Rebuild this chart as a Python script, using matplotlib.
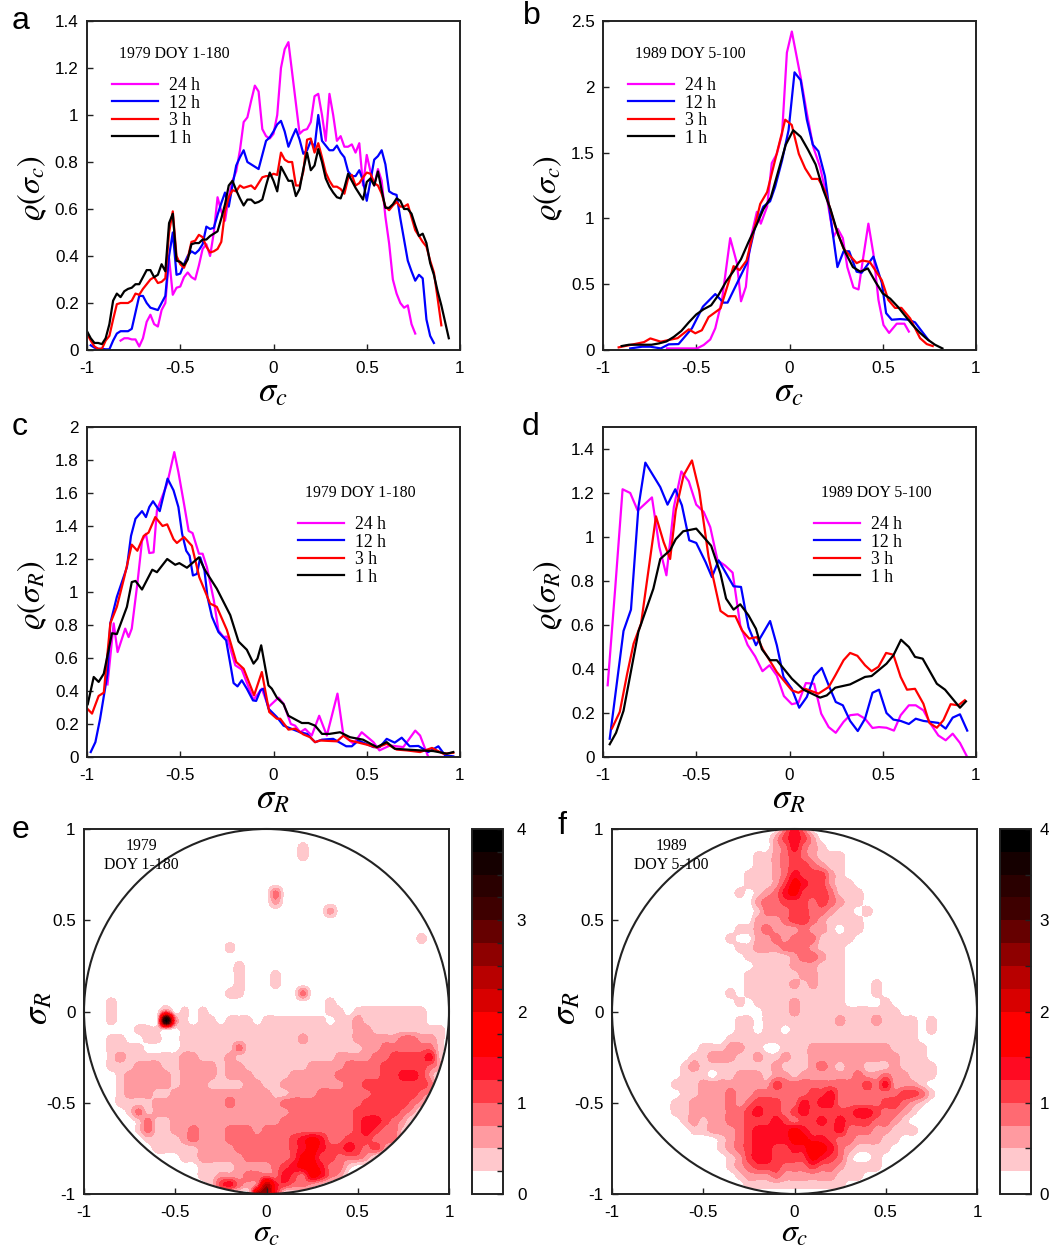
import numpy as np
import matplotlib
matplotlib.use("Agg")
import matplotlib.pyplot as plt
from matplotlib.patches import Circle
from matplotlib.colors import ListedColormap, BoundaryNorm

plt.rcParams['font.family'] = ['Liberation Sans', 'DejaVu Sans']
plt.rcParams['mathtext.fontset'] = 'stix'
plt.rcParams['axes.unicode_minus'] = False

N = float('nan')
# ---------------- panel a: bins and series ----------------
A_X = [-1,-.98,-.96,-.94,-.92,-.90,-.88,-.86,-.84,-.82,-.80,-.78,-.76,-.74,-.72,-.70,-.68,-.66,-.64,-.62,-.60,-.58,-.56,-.54,-.52,-.50,-.48,-.46,-.44,-.42,-.40,-.38,-.36,-.34,-.32,-.30,-.28,-.26,-.24,-.22,-.20,-.18,-.16,-.14,-.12,-.10,-.08,-.06,-.04,-.02,0,.02,.04,.06,.08,.10,.12,.14,.16,.18,.20,.22,.24,.26,.28,.30,.32,.34,.36,.38,.40,.42,.44,.46,.48,.50,.52,.54,.56,.58,.60,.62,.64,.66,.68,.70,.72,.74,.76,.78,.80,.82,.84,.86,.88,.90,.92,.94]
A_1H = [.08,.05,.03,.03,.025,.05,.11,.21,.24,.225,.25,.26,.265,.28,.28,.31,.34,.34,.31,.32,.365,.335,.54,.58,.38,.375,.36,.385,.45,.455,.455,.47,.47,.485,.495,.505,.56,.62,.70,.72,.68,.645,.615,.64,.64,.625,.63,.64,.70,.755,.72,.675,.78,.75,.72,.72,.655,.685,.77,.84,.765,.785,.855,.80,.73,.695,.67,.65,.645,.69,.75,.72,.69,.665,.64,.715,.73,.70,.76,.68,.605,.605,.62,.645,.635,.60,.60,.58,.53,.485,.495,.455,.37,.32,.25,.19,.12,.05]
A_3H = [.07,.04,.015,.005,.005,.04,.06,.13,.195,.20,.20,.20,.21,.24,.235,.26,.28,.30,.31,.285,.29,.305,.50,.59,.40,.365,.35,.39,.46,.465,.49,.48,.44,.415,.42,.43,.46,.59,.65,.68,.675,.70,.69,.695,.70,.685,.71,.735,.74,.74,.75,.745,.84,.81,.80,.80,.70,.70,.76,.895,.90,.84,.88,.82,.755,.72,.695,.695,.685,.665,.73,.745,.70,.71,.735,.755,.75,.71,.70,.665,.61,.595,.615,.63,.61,.61,.62,.565,.51,.485,.46,.44,.38,.33,.22,.105,N,N]
A_12H = [N,.02,.01,.005,.005,.003,.003,.04,.07,.08,.08,.08,.09,.16,.23,.23,.20,.18,.175,.17,.20,.23,.40,.50,.32,.325,.365,.40,.42,.41,.425,.45,.525,.515,.52,.575,.625,.67,.61,.70,.785,.82,.85,.80,.79,.78,.77,.83,.89,.905,.93,.96,.975,.93,.865,.905,.94,.895,.835,.85,.89,.86,1.0,.89,.87,.85,.85,.87,.84,.82,.76,.74,.74,.765,.72,.635,.72,.81,.825,.85,.79,.675,.665,.66,.56,.47,.38,.335,.295,.32,.305,.13,.06,.03,N,N,N,N]
A_24H = [N,N,N,N,N,N,N,N,N,.04,.05,.05,.045,.045,.015,.05,.12,.15,.11,.10,.17,.20,.39,.235,.265,.27,.31,.33,.31,.30,.36,.43,.45,.40,.50,.65,.59,.55,.65,.72,.76,.85,.97,.99,1.06,1.125,1.10,.94,.91,.90,.92,1.00,1.20,1.28,1.31,1.18,1.05,.92,.935,.94,.97,1.08,1.09,1.0,.89,1.09,1.0,.89,.91,.865,.865,.875,.84,.88,.70,.83,.76,.70,.77,.72,.567,.453,.30,.24,.20,.18,.19,.11,.07,N,N,N,N,N,N,N,N,N]

# ---------------- panel b ----------------
B_1H_X = [-.90,-.86,-.82,-.78,-.74,-.70,-.66,-.62,-.58,-.54,-.50,-.46,-.42,-.38,-.34,-.30,-.26,-.22,-.18,-.14,-.10,-.06,-.02,.02,.06,.10,.14,.18,.22,.26,.30,.34,.38,.42,.46,.50,.54,.58,.62,.66,.70,.74,.78,.82]
B_1H_Y = [.03,.04,.04,.04,.04,.05,.065,.10,.145,.21,.27,.31,.34,.42,.52,.60,.69,.82,.94,1.07,1.16,1.36,1.56,1.67,1.62,1.52,1.41,1.22,1.07,.88,.74,.63,.595,.62,.52,.43,.39,.33,.26,.19,.13,.08,.04,.012]
B_3H_X = [-.916,-.78,-.746,-.69,-.60,-.54,-.505,-.47,-.434,-.37,-.30,-.268,-.23,-.157,-.12,-.023,.012,.05,.084,.12,.155,.19,.245,.29,.36,.39,.43,.495,.53,.566,.60,.647,.70,.736,.768]
B_3H_Y = [.02,.06,.088,.063,.09,.157,.127,.15,.25,.316,.637,.607,.68,1.11,1.2,1.75,1.71,1.49,1.38,1.30,1.30,1.21,.94,.77,.66,.68,.67,.53,.38,.32,.32,.24,.09,.045,.03]
B_12H_X = [-.854,-.79,-.746,-.69,-.648,-.595,-.523,-.464,-.398,-.354,-.332,-.229,-.184,-.14,-.104,-.077,-.04,-.005,.027,.06,.093,.125,.155,.19,.22,.257,.29,.32,.36,.387,.45,.495,.518,.548,.593,.638,.673,.745]
B_12H_Y = [.012,.025,.025,.012,.043,.045,.165,.33,.425,.36,.36,.66,.94,1.09,1.13,1.24,1.44,1.67,2.11,2.05,1.75,1.56,1.51,1.32,1.01,.63,.75,.75,.595,.587,.71,.51,.28,.23,.235,.23,.21,.076]
B_24H_X = [-.657,-.496,-.46,-.425,-.398,-.362,-.318,-.282,-.26,-.234,-.21,-.175,-.154,-.12,-.095,-.068,-.04,-.014,.0125,.06,.093,.128,.164,.2,.236,.259,.286,.31,.343,.37,.396,.423,.45,.477,.504,.534,.575,.616,.64]
B_24H_Y = [.012,.012,.038,.08,.165,.38,.85,.66,.37,.48,.835,1.05,.96,1.09,1.42,1.49,1.64,2.26,2.42,2.07,1.80,1.54,1.39,1.16,.86,.92,.85,.63,.475,.46,.71,.96,.73,.38,.19,.13,.20,.20,.14]

# ---------------- panel c ----------------
C_1H_X = [-.996,-.964,-.9375,-.91,-.866,-.84,-.786,-.76,-.74,-.705,-.65,-.625,-.57,-.527,-.505,-.464,-.40,-.366,-.304,-.232,-.1875,-.143,-.107,-.086,-.066,-.027,-.009,.018,.054,.08,.152,.1875,.223,.26,.30,.357,.41,.48,.554,.607,.65,.714,.786,.857,.93,.964]
C_1H_Y = [.32,.485,.455,.505,.75,.745,.91,1.06,1.067,1.015,1.135,1.12,1.2,1.165,1.175,1.147,1.21,1.13,1.02,.86,.70,.65,.566,.596,.677,.434,.414,.36,.32,.25,.206,.206,.19,.14,.14,.15,.12,.105,.06,.09,.05,.045,.04,.036,.02,.03]
C_3H_X = [-.996,-.973,-.9375,-.91,-.875,-.84,-.80,-.76,-.73,-.696,-.67,-.634,-.595,-.57,-.536,-.518,-.48,-.4375,-.398,-.34,-.304,-.25,-.2,-.16,-.104,-.0625,-.023,.018,.036,.08,.116,.16,.196,.223,.25,.34,.375,.41,.5,.554,.607,.66,.714,.786,.85,.91,.964]
C_3H_Y = [.29,.263,.37,.39,.81,.91,1.09,1.287,1.25,1.34,1.36,1.454,1.40,1.41,1.32,1.297,1.333,1.28,1.09,.93,.91,.77,.576,.535,.374,.515,.273,.232,.232,.166,.172,.137,.12,.09,.10,.095,.13,.10,.075,.057,.08,.045,.04,.03,.055,.02,.025]
C_12H_X = [-.98,-.955,-.93,-.89,-.875,-.84,-.786,-.764,-.74,-.705,-.684,-.666,-.646,-.61,-.568,-.536,-.51,-.49,-.468,-.45,-.432,-.41,-.393,-.37,-.354,-.33,-.295,-.254,-.232,-.214,-.193,-.17,-.143,-.11,-.093,-.07,-.054,-.027,.018,.054,.107,.143,.18,.223,.26,.32,.39,.42,.455,.536,.57,.607,.65,.6875,.73,.777,.83,.884,.92,.964]
C_12H_Y = [.03,.09,.23,.505,.81,.97,1.15,1.34,1.444,1.49,1.454,1.515,1.55,1.49,1.687,1.616,1.515,1.353,1.25,1.22,1.10,1.11,1.21,1.13,.97,.85,.757,.707,.566,.448,.428,.465,.414,.343,.34,.404,.414,.293,.242,.19,.166,.15,.14,.09,.105,.11,.065,.065,.10,.06,.06,.11,.087,.117,.065,.067,.03,.065,.01,.004]
C_24H_X = [-.89,-.857,-.836,-.795,-.777,-.76,-.73,-.705,-.684,-.666,-.643,-.625,-.57,-.532,-.51,-.48,-.455,-.434,-.40,-.38,-.357,-.32,-.295,-.268,-.25,-.205,-.17,-.134,-.107,-.0625,-.027,.027,.054,.093,.116,.143,.17,.205,.245,.286,.343,.375,.43,.473,.536,.568,.625,.696,.76,.786,.83,.93]
C_24H_Y = [.44,.81,.636,.778,.727,.778,1.05,1.31,1.353,1.236,1.24,1.495,1.657,1.848,1.727,1.535,1.37,1.357,1.232,1.232,1.15,.95,.767,.727,.73,.556,.53,.424,.347,.414,.303,.36,.323,.20,.19,.15,.17,.13,.25,.13,.384,.13,.08,.15,.09,.04,.07,.06,.16,.13,0,0]

# ---------------- panel d ----------------
D_1H_X = [-.964,-.93,-.89,-.81,-.73,-.693,-.64,-.61,-.57,-.50,-.42,-.37,-.34,-.30,-.264,-.22,-.18,-.148,-.104,-.068,.0125,.075,.164,.2,.245,.325,.405,.44,.52,.557,.598,.64,.673,.714,.79,.834,.914,.946]
D_1H_Y = [.058,.11,.21,.57,.765,.90,.94,.99,1.026,1.038,.96,.833,.72,.67,.694,.644,.583,.49,.44,.44,.356,.306,.27,.28,.315,.33,.364,.368,.424,.462,.533,.50,.455,.447,.333,.306,.224,.253]
D_3H_X = [-.952,-.91,-.87,-.836,-.796,-.716,-.675,-.64,-.61,-.568,-.523,-.484,-.434,-.37,-.33,-.29,-.255,-.216,-.175,-.14,-.068,.0125,.048,.084,.155,.21,.245,.29,.325,.364,.405,.44,.477,.518,.557,.596,.63,.673,.718,.75,.79,.825,.864,.905,.94]
D_3H_Y = [.13,.205,.38,.515,.606,1.094,.977,.90,1.12,1.28,1.348,1.21,.91,.664,.64,.64,.576,.538,.545,.485,.386,.303,.292,.31,.288,.318,.37,.44,.473,.46,.417,.39,.41,.473,.465,.364,.306,.31,.242,.155,.133,.167,.24,.235,.258]
D_12H_X = [-.964,-.89,-.85,-.81,-.773,-.693,-.654,-.6125,-.577,-.5375,-.5,-.45,-.416,-.38,-.30,-.26,-.22,-.18,-.104,-.068,-.032,.0125,.052,.093,.132,.173,.21,.248,.286,.325,.366,.405,.445,.48,.52,.557,.596,.64,.677,.718,.798,.8375,.875,.914,.953]
D_12H_Y = [.083,.573,.67,1.136,1.338,1.227,1.147,1.217,1.144,.985,.973,.886,.818,.894,.776,.773,.59,.508,.618,.508,.364,.31,.224,.273,.368,.405,.326,.25,.235,.164,.118,.174,.292,.306,.20,.17,.164,.15,.174,.164,.155,.129,.179,.194,.12]
D_24H_X = [-.975,-.934,-.895,-.854,-.814,-.7375,-.698,-.66,-.62,-.58,-.54,-.5,-.46,-.425,-.386,-.345,-.305,-.264,-.225,-.184,-.145,-.107,-.068,-.03,.0125,.048,.0875,.132,.17,.21,.248,.29,.325,.366,.405,.445,.48,.52,.56,.596,.64,.677,.718,.757,.798,.8375,.875,.914,.953]
D_24H_Y = [.326,.773,1.217,1.2,1.12,1.18,.955,.826,1.136,1.298,1.253,1.147,1.114,1.045,.894,.87,.838,.598,.51,.457,.39,.417,.37,.277,.24,.247,.336,.333,.197,.136,.11,.16,.19,.194,.174,.132,.136,.133,.12,.19,.235,.235,.212,.15,.098,.076,.106,.064,0]

# ---------------- panels e, f: density bands on a 0.05 grid (hex digit = band) ----------------
GRID = [-1+.05*i for i in range(41)]
E_ROWS = {
 1.00:"", .95:"", .90:"00000 00000 00000 00000 00001", .85:"00000 00000 00000 00000 00001", .80:"", .75:"", .70:"",
 .65:"00000 00000 00000 00000 03000", .60:"00000 00000 00000 00000 02000",
 .55:"00000 00000 00000 00000 00000 00200", .50:"", .45:"",
 .40:"00000 00000 00000 00000 00000 00000 00000 00100",
 .35:"00000 00000 00000 01000", .30:"", .25:"00000 00000 00000 00100",
 .20:"00000 00000 00000 00100 01000", .15:"00000 00000 00000 00100 01000",
 .10:"00000 00000 00000 01100 00003", .05:"00010 00000 00000 00000 00000 00100",
 .00:"00010 00003 01010 00000 00000 00110 11111 11100 0",
 -.05:"00010 0000f 31011 01110 11111 11011 21111 11100 0",
 -.10:"00000 01110 01111 11111 11111 11111 22111 11111 0",
 -.15:"00011 00110 01111 11111 11112 11111 22222 33221 0",
 -.20:"00011 11000 01111 11311 11111 11111 12233 33331 0",
 -.25:"00012 11111 12211 12111 11111 11122 22334 44451 0",
 -.30:"00011 12221 12222 12211 11111 22223 33344 44432 0",
 -.35:"00001 22222 12222 12221 11122 22233 33344 55420 0",
 -.40:"00001 22222 12221 11122 11222 22223 34444 44430 0",
 -.45:"00001 22211 22222 22222 21122 23333 33444 44320 0",
 -.50:"00001 11122 22222 23222 22333 33333 34444 43200 0",
 -.55:"00000 13122 22222 22222 22233 33333 44444 32000 0",
 -.60:"00000 01311 22222 22222 22333 33333 45543 20000 0",
 -.65:"00000 01311 22322 23332 33333 33333 45433 10000 0",
 -.70:"00000 00111 12322 23333 33345 65334 44333 00000 0",
 -.75:"00000 00011 11122 22333 33345 65445 43420 00000 0",
 -.80:"00000 00000 01122 22233 33346 64433 32000 00000 0",
 -.85:"00000 00000 00011 11222 23456 65331 00000 00000 0",
 -.90:"00000 00000 00011 22233 33543 65320 00000 00000 0",
 -.95:"00000 00000 00001 45323 95433 21000 00000 00000 0",
 -1.00:"00000 00000 00000 00009 a5000",
}
F_ROWS = {
 1.00:"00000 00000 00000 00003 53000",
 .95:"00000 00000 00000 00024 54200",
 .90:"00000 00000 00000 00023 53210",
 .85:"00000 00000 00000 01123 43211 10000",
 .80:"00000 00000 00000 01123 44321 10000",
 .75:"00000 00000 00000 11123 54442 10000",
 .70:"00000 00000 00000 11124 65442 11000",
 .65:"00000 00000 00001 01235 64443 11100",
 .60:"00000 00000 00000 02334 44343 21100",
 .55:"00000 00000 00000 01333 44332 11010",
 .50:"00000 00000 00000 02223 44321 11100",
 .45:"00000 00000 00001 12322 23221 01100",
 .40:"00000 00000 00010 02232 33311 11000",
 .35:"00000 00000 00001 12223 33211 10000",
 .30:"00000 00000 00000 11111 23321 10000",
 .25:"00000 00000 00000 01111 22211 10000",
 .20:"00000 00000 00000 11111 12211 10000",
 .15:"00000 00000 00000 11111 21211 10001",
 .10:"00000 00000 00010 11111 11111 10001",
 .05:"00000 00000 00001 01111 21111 10000 10000",
 .00:"00000 00000 00000 00111 21111 11111 11000",
 -.05:"00000 00000 00001 10111 11111 21112 11110 10000",
 -.10:"00000 00000 00001 10110 11111 11111 11110 10000",
 -.15:"00000 00000 00011 11111 11111 11111 11110",
 -.20:"00000 00000 11122 11001 11222 22222 21111",
 -.25:"00000 00001 12221 12112 11222 22222 22111",
 -.30:"00000 00012 11111 11121 11232 12211 12111 10000",
 -.35:"00000 00011 10112 22122 12222 22322 32211 10000",
 -.40:"00000 00111 22222 22243 33333 33343 52221",
 -.45:"00000 00011 22232 23333 33445 33333 33443 10000",
 -.50:"00000 00112 22232 34443 35455 33333 44321",
 -.55:"00000 00112 22233 45443 45444 44554 33210",
 -.60:"00000 00012 12233 44454 34454 54443 32100",
 -.65:"00000 00001 12223 45555 65444 53332 21110",
 -.70:"00000 00000 00123 45555 66554 33222 11000",
 -.75:"00000 00000 00123 45544 55765 32111 10000",
 -.80:"00000 00000 00012 45544 44654 31001",
 -.85:"00000 00000 00012 34443 33433 21111",
 -.90:"00000 00000 00001 22232 22222 11100",
 -.95:"00000 00000 00000 11111 11111 10000",
 -1.00:"",
}
LEVELS = [i*.25 for i in range(17)]
BAND_COLORS = ['#FFFFFF','#FFC8CC','#FF9AA0','#FF6A72','#FF3A45','#FF0A22','#FF0000','#FF0000',
               '#D80000','#B80000','#8E0000','#650000','#3E0000','#2A0000','#150000','#000000']
SERIES_COLORS = ['#FF00FF','#0000FF','#FF0000','#000000']
SERIES_LABELS = ['24 h','12 h','3 h','1 h']

W, H = 1051, 1250
fig = plt.figure(figsize=(W/100, H/100), dpi=100)
FRAME = '#222222'

def axpx(x0, y0, x1, y1):
    return fig.add_axes([x0/W, 1-y1/H, (x1-x0)/W, (y1-y0)/H])

def style(ax, xt, yt, ylim):
    ax.set_xlim(-1, 1); ax.set_ylim(*ylim)
    ax.set_xticks(xt); ax.set_yticks(yt)
    ax.set_xticklabels(['%g' % v for v in xt]); ax.set_yticklabels(['%g' % v for v in yt])
    ax.tick_params(direction='in', length=4, width=1, labelsize=12.3, color=FRAME)
    ax.tick_params(axis='x', pad=8); ax.tick_params(axis='y', pad=6)
    for s in ax.spines.values():
        s.set_linewidth(1.4); s.set_color(FRAME)

def line_panel(box, series, yt, ylim, xlabel, ylabel, title, title_xy, leg_xy, letter, letter_xy):
    ax = axpx(*box)
    for (x, y), c, l in zip(series, SERIES_COLORS, SERIES_LABELS):
        ax.plot(x, y, color=c, lw=1.6, label=l, solid_joinstyle='round')
    style(ax, [-1,-.5,0,.5,1], yt, ylim)
    x0, y0, x1, y1 = box
    fig.text((x0+x1)/2/W - .001, 1-(y1+42)/H, xlabel, fontsize=25, ha='center', va='center')
    fig.text((x0-55)/W, 1-((y0+y1)/2+3)/H, ylabel, fontsize=23, rotation=90, ha='center', va='center')
    fig.text(title_xy[0]/W, 1-title_xy[1]/H, title, fontsize=11.4, family='Liberation Serif', ha='center', va='center')
    ax.legend(loc='upper left', bbox_to_anchor=((leg_xy[0]-x0)/(x1-x0), (y1-leg_xy[1])/(y1-y0)),
              frameon=False, borderpad=0, borderaxespad=0, labelspacing=.03, handlelength=2.62, handletextpad=.62,
              prop={'family':'Liberation Serif','size':12.7})
    fig.text(letter_xy[0]/W, 1-letter_xy[1]/H, letter, fontsize=23, ha='left', va='center')
    return ax

line_panel((87,21,460,350), [(A_X,A_24H),(A_X,A_12H),(A_X,A_3H),(A_X,A_1H)],
           [0,.2,.4,.6,.8,1,1.2,1.4], (0,1.4), r'$\sigma_c$', r'$\varrho(\sigma_c)$',
           '1979 DOY 1-180', (174,54), (112,77), 'a', (12,21))
line_panel((603,21,976,350), [(B_24H_X,B_24H_Y),(B_12H_X,B_12H_Y),(B_3H_X,B_3H_Y),(B_1H_X,B_1H_Y)],
           [0,.5,1,1.5,2,2.5], (0,2.5), r'$\sigma_c$', r'$\varrho(\sigma_c)$',
           '1989 DOY 5-100', (690,54), (628,77), 'b', (523,16))
line_panel((87,427,460,757), [(C_24H_X,C_24H_Y),(C_12H_X,C_12H_Y),(C_3H_X,C_3H_Y),(C_1H_X,C_1H_Y)],
           [0,.2,.4,.6,.8,1,1.2,1.4,1.6,1.8,2], (0,2), r'$\sigma_R$', r'$\varrho(\sigma_R)$',
           '1979 DOY 1-180', (360,493), (298,516), 'c', (12,427))
line_panel((603,427,976,757), [(D_24H_X,D_24H_Y),(D_12H_X,D_12H_Y),(D_3H_X,D_3H_Y),(D_1H_X,D_1H_Y)],
           [0,.2,.4,.6,.8,1,1.2,1.4], (0,1.5), r'$\sigma_R$', r'$\varrho(\sigma_R)$',
           '1989 DOY 5-100', (876,493), (814,516), 'd', (522,427))

def grid_from(rows):
    ys = sorted(rows)
    Zv = np.full((len(ys), len(GRID)), .125)
    for i, y in enumerate(ys):
        s = rows[y].replace(' ', '')
        for j, ch in enumerate(s):
            Zv[i, j] = (int(ch, 16) + .5) * .25
    return np.array(ys), Zv

def round_shapes(a, k=4):
    # Catmull-Rom refinement along both axes, only to round the contour outlines
    def up(m):
        p = np.pad(m, ((1, 1), (0, 0)), mode='edge')
        out = []
        for i in range(1, p.shape[0]-2):
            for t in np.arange(k)/k:
                p0, p1, p2, p3 = p[i-1], p[i], p[i+1], p[i+2]
                out.append(.5*((2*p1)+(-p0+p2)*t+(2*p0-5*p1+4*p2-p3)*t**2+(-p0+3*p1-3*p2+p3)*t**3))
        out.append(p[-2])
        return np.array(out)
    return np.clip(up(up(a).T).T, 0, 3.99)

cmap = ListedColormap(BAND_COLORS)
norm = BoundaryNorm(LEVELS, cmap.N)

def density_panel(box, cbox, rows, t1, t2, t_xy, letter, letter_xy, cpad):
    ax = axpx(*box)
    ys, Zv = grid_from(rows)
    fine = round_shapes(Zv)
    fx = np.linspace(GRID[0], GRID[-1], fine.shape[1])
    fy = np.linspace(ys[0], ys[-1], fine.shape[0])
    cs = ax.contourf(fx, fy, fine, levels=LEVELS, cmap=cmap, norm=norm)
    ax.add_patch(Circle((0, 0), 1, fill=False, ec=FRAME, lw=1.5, clip_on=False, zorder=5))
    cs.set_clip_path(Circle((0, 0), 1, transform=ax.transData))
    style(ax, [-1,-.5,0,.5,1], [-1,-.5,0,.5,1], (-1,1))
    x0, y0, x1, y1 = box
    fig.text((x0+x1)/2/W, 1-(y1+40)/H, r'$\sigma_c$', fontsize=23, ha='center', va='center')
    fig.text((x0-46)/W, 1-((y0+y1)/2-3)/H, r'$\sigma_R$', fontsize=25, rotation=90, ha='center', va='center')
    for t, xy in zip((t1, t2), t_xy):
        fig.text(xy[0]/W, 1-xy[1]/H, t, fontsize=11.3, family='Liberation Serif', ha='center', va='center', zorder=6)
    fig.text(letter_xy[0]/W, 1-letter_xy[1]/H, letter, fontsize=23, ha='left', va='center')
    cax = axpx(*cbox)
    cb = fig.colorbar(cs, cax=cax, spacing='proportional', drawedges=False)
    cb.set_ticks([0,1,2,3,4]); cb.set_ticklabels(['0','1','2','3','4'])
    cb.ax.yaxis.set_ticks([.5,1.5,2.5,3.5], minor=True)
    cb.ax.tick_params(which='both', direction='in', length=4, width=1, labelsize=12.3, pad=cpad, color=FRAME)
    cb.outline.set_linewidth(1.4); cb.outline.set_edgecolor(FRAME)

density_panel((84,829,449,1194), (472,829,503,1194), E_ROWS, '1979', 'DOY 1-180',
              ((141,846), (141,865)), 'e', (12,830), 10)
density_panel((612,829,977,1194), (1000,829,1031,1194), F_ROWS, '1989', 'DOY 5-100',
              ((671,846), (671,865)), 'f', (558,826), 6)

fig.savefig('out.png', dpi=100, facecolor='white')
